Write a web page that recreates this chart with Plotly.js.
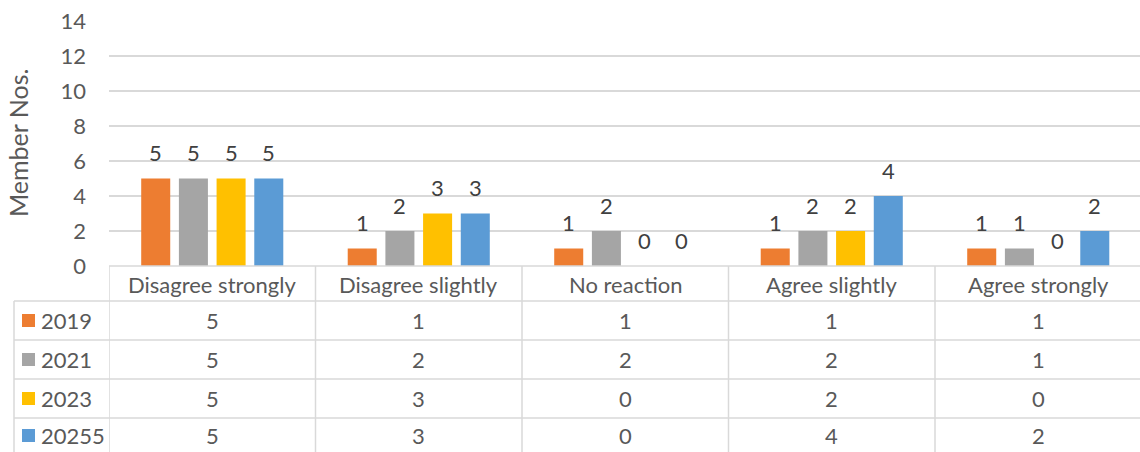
<!DOCTYPE html>
<html>
<head>
<meta charset="utf-8">
<script src="https://cdn.plot.ly/plotly-3.0.1.min.js"></script>
<style>
html,body{margin:0;padding:0;background:#fff;}
#chart{width:1140px;height:452px;}
</style>
</head>
<body>
<div id="chart"></div>
<script>
const categories = ['Disagree strongly', 'Disagree slightly', 'No reaction', 'Agree slightly', 'Agree strongly'];
const seriesNames = ['2019', '2021', '2023', '20255'];
const values2019 = [5, 1, 1, 1, 1];
const values2021 = [5, 2, 2, 2, 1];
const values2023 = [5, 3, 0, 2, 0];
const values20255 = [5, 3, 0, 4, 2];
const yTickVals = [0, 2, 4, 6, 8, 10, 12, 14];
const yTitle = 'Member Nos.';

const seriesValues = [values2019, values2021, values2023, values20255];
const colors = ['#ED7D31', '#A5A5A5', '#FFC000', '#5B9BD5'];
const FONT = 'Lato, "Open Sans", sans-serif';
const FS = 22;
const W = 1140, H = 452;
const textColor = '#595959';
const labelColor = '#404040';
const lineColor = '#D9D9D9';
const BARGAP = 0.27, BARGROUPGAP = 0.23;

// pixel helpers (paper coordinates)
const px = x => x / W;
const py = y => 1 - y / H;

const plotTop = 21, plotBottom = 266, plotLeft = 109;
const tableLeft = 14;
const rowLines = [301, 340, 379, 418, 457];
const headerCenter = 284;

const traces = seriesNames.map((name, i) => ({
  type: 'bar',
  name: name,
  x: categories,
  y: seriesValues[i],
  marker: {color: colors[i]},
  hoverinfo: 'skip'
}));

const shapes = [];
const annotations = [];
const n = categories.length;
const ns = seriesNames.length;

// data labels above bars (positioned through the x/y axes)
const slot = (1 - BARGAP) / ns;
seriesValues.forEach((vals, i) => {
  vals.forEach((v, k) => {
    annotations.push({xref: 'x', yref: 'y', x: k + (i - (ns - 1) / 2) * slot, y: v, yshift: 26,
      text: String(v), showarrow: false, xanchor: 'center', yanchor: 'middle',
      font: {family: FONT, size: FS, color: labelColor}});
  });
});

// horizontal table lines
shapes.push({type: 'line', xref: 'x', yref: 'paper', x0: -0.5, x1: n - 0.5, y0: py(plotBottom), y1: py(plotBottom), line: {color: lineColor, width: 1.5}});
rowLines.slice(0, 4).forEach(yy => {
  shapes.push({type: 'line', xref: 'paper', yref: 'paper', x0: px(tableLeft), x1: 1, y0: py(yy), y1: py(yy), line: {color: lineColor, width: 1.5}});
});
// vertical table lines
shapes.push({type: 'line', xref: 'paper', yref: 'paper', x0: px(tableLeft), x1: px(tableLeft), y0: py(rowLines[0]), y1: 0, line: {color: lineColor, width: 1.5}});
for (let i = 0; i < n; i++) {
  shapes.push({type: 'line', xref: 'x', yref: 'paper', x0: i - 0.5, x1: i - 0.5, y0: py(plotBottom), y1: 0, line: {color: lineColor, width: 1.5}});
}

// header labels
categories.forEach(c => {
  annotations.push({xref: 'x', yref: 'paper', x: c, y: py(headerCenter), text: c, showarrow: false,
    xanchor: 'center', yanchor: 'middle', font: {family: FONT, size: FS, color: textColor}});
});

// data rows
seriesNames.forEach((name, r) => {
  const top = rowLines[r], bottom = rowLines[r + 1];
  const cy = (top + bottom) / 2 - (r === ns - 1 ? 2 : 0);
  shapes.push({type: 'rect', xref: 'paper', yref: 'paper', x0: px(22), x1: px(35), y0: py(cy + 6.5), y1: py(cy - 6.5),
    fillcolor: colors[r], line: {width: 0}});
  annotations.push({xref: 'paper', yref: 'paper', x: px(39), y: py(cy), text: name, showarrow: false,
    xanchor: 'left', yanchor: 'middle', font: {family: FONT, size: FS, color: textColor}});
  categories.forEach((c, k) => {
    annotations.push({xref: 'x', yref: 'paper', x: c, y: py(cy), text: String(seriesValues[r][k]), showarrow: false,
      xanchor: 'center', yanchor: 'middle', font: {family: FONT, size: FS, color: textColor}});
  });
});

// y axis title
annotations.push({xref: 'paper', yref: 'paper', x: px(18), y: py(143), text: yTitle, textangle: -90,
  showarrow: false, xanchor: 'center', yanchor: 'middle', font: {family: FONT, size: 25, color: textColor}});

const layout = {
  width: W, height: H,
  margin: {l: 0, r: 0, t: 0, b: 0, pad: 0},
  paper_bgcolor: '#fff', plot_bgcolor: '#fff',
  showlegend: false,
  barmode: 'group',
  bargap: BARGAP,
  bargroupgap: BARGROUPGAP,
  font: {family: FONT, size: FS, color: textColor},
  xaxis: {
    type: 'category',
    domain: [px(plotLeft), 1],
    range: [-0.5, n - 0.5 - 1.5 / 206.5],
    showticklabels: false, showgrid: false, zeroline: false, showline: false, ticks: ''
  },
  yaxis: {
    domain: [py(plotBottom), py(plotTop)],
    range: [0, 14],
    tickvals: yTickVals,
    ticktext: yTickVals.map(String),
    showgrid: true, gridcolor: lineColor, gridwidth: 1.5,
    zeroline: false, showline: false, ticks: '',
    ticklabelstandoff: 22,
    tickfont: {family: FONT, size: FS, color: textColor}
  },
  shapes: shapes,
  annotations: annotations
};

Plotly.newPlot('chart', traces, layout, {staticPlot: true, displayModeBar: false});
</script>
</body>
</html>
